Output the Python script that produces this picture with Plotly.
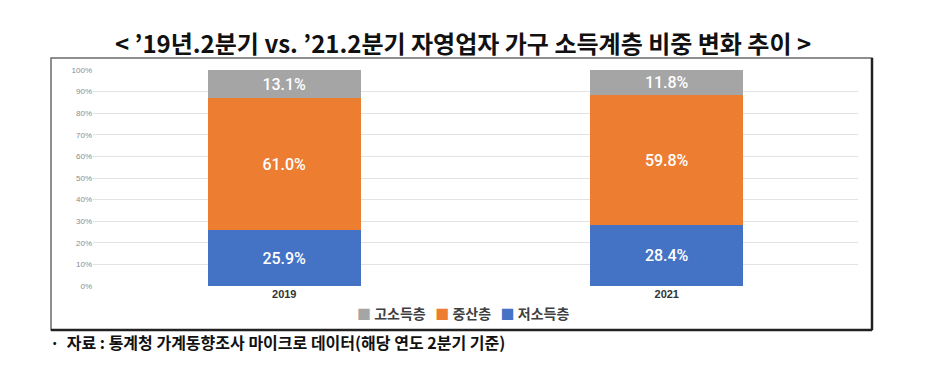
import plotly.graph_objects as go

years = ["2019", "2021"]
low_income = [25.9, 28.4]
middle_income = [61.0, 59.8]
high_income = [13.1, 11.8]
series_names = ["저소득층", "중산층", "고소득층"]
colors = ["#4472C4", "#ED7D31", "#A5A5A5"]
y_ticks = [0, 10, 20, 30, 40, 50, 60, 70, 80, 90, 100]
y_tick_labels = [f"{t}%" for t in y_ticks]

OFF = 8  # page body margin
W, H = 927 - OFF, 374 - OFF
L = 93 - OFF
T = 70 - OFF
R = W - (858 - OFF)
B = H - (286 - OFF)
pw, ph = W - L - R, H - T - B

def px_x(x):
    return (x - OFF - L) / pw

def px_y(y):
    return (H - B - (y - OFF)) / ph

fig = go.Figure()
for name, vals, col in zip(series_names, [low_income, middle_income, high_income], colors):
    fig.add_trace(go.Bar(
        x=years, y=vals, name=name, marker_color=col, marker_line_width=0,
        text=[f"{v:.1f}%" for v in vals], textposition="inside",
        insidetextanchor="middle", textangle=0,
        textfont=dict(color="white", size=16, weight=500,
                      family="Roboto, sans-serif"),
    ))

legend_html = "   ".join(
    f"<span style='color:{c}'>■</span> {n}"
    for n, c in zip(series_names[::-1], colors[::-1])
)

fig.update_layout(
    barmode="stack", bargap=0.6,
    width=W, height=H,
    margin=dict(l=L, r=R, t=T, b=B),
    paper_bgcolor="white", plot_bgcolor="white",
    font=dict(family="Noto Sans CJK KR, sans-serif"),
    showlegend=False,
    xaxis=dict(showgrid=False, showline=False, ticks="",
               tickvals=years, ticktext=[f"<b>{y}</b>" for y in years],
               tickfont=dict(size=11, color="#333333", family="Liberation Sans, Arial, sans-serif")),
    yaxis=dict(range=[0, 100], tickvals=y_ticks, ticktext=y_tick_labels,
               showgrid=True, gridcolor="#E3E3E3", gridwidth=1, zeroline=False,
               showline=False, ticks="",
               tickfont=dict(size=8, color="#8C8C8C", family="Liberation Sans, Arial, sans-serif")),
    shapes=[
        dict(type="rect", xref="paper", yref="paper",
             x0=px_x(51), x1=px_x(872), y0=px_y(330), y1=px_y(58),
             line=dict(color="#6a6a6a", width=1.5), layer="below"),
        dict(type="line", xref="paper", yref="paper",
             x0=px_x(51), x1=px_x(872), y0=px_y(330), y1=px_y(330),
             line=dict(color="#222", width=2.5)),
        dict(type="line", xref="paper", yref="paper",
             x0=px_x(872), x1=px_x(872), y0=px_y(330), y1=px_y(58),
             line=dict(color="#222", width=2.5)),
    ],
    annotations=[
        dict(text="<b>&lt; ’19년.2분기 vs. ’21.2분기 자영업자 가구 소득계층 비중 변화 추이 &gt;</b>",
             xref="paper", yref="paper", x=px_x(463), y=px_y(42),
             xanchor="center", yanchor="middle", showarrow=False,
             font=dict(size=24, color="#111", family="Noto Sans CJK KR, sans-serif")),
        dict(text=f"<b>{legend_html}</b>",
             xref="paper", yref="paper", x=px_x(463), y=px_y(313),
             xanchor="center", yanchor="middle", showarrow=False,
             font=dict(size=14, color="#404040", family="Noto Sans CJK KR, sans-serif")),
        dict(text="<b>·  자료 : 통계청 가계동향조사 마이크로 데이터(해당 연도 2분기 기준)</b>",
             xref="paper", yref="paper", x=px_x(48), y=px_y(342),
             xanchor="left", yanchor="middle", showarrow=False,
             font=dict(size=16, color="#111", family="Noto Sans CJK KR, sans-serif")),
    ],
)

fig.write_html("out.html")
